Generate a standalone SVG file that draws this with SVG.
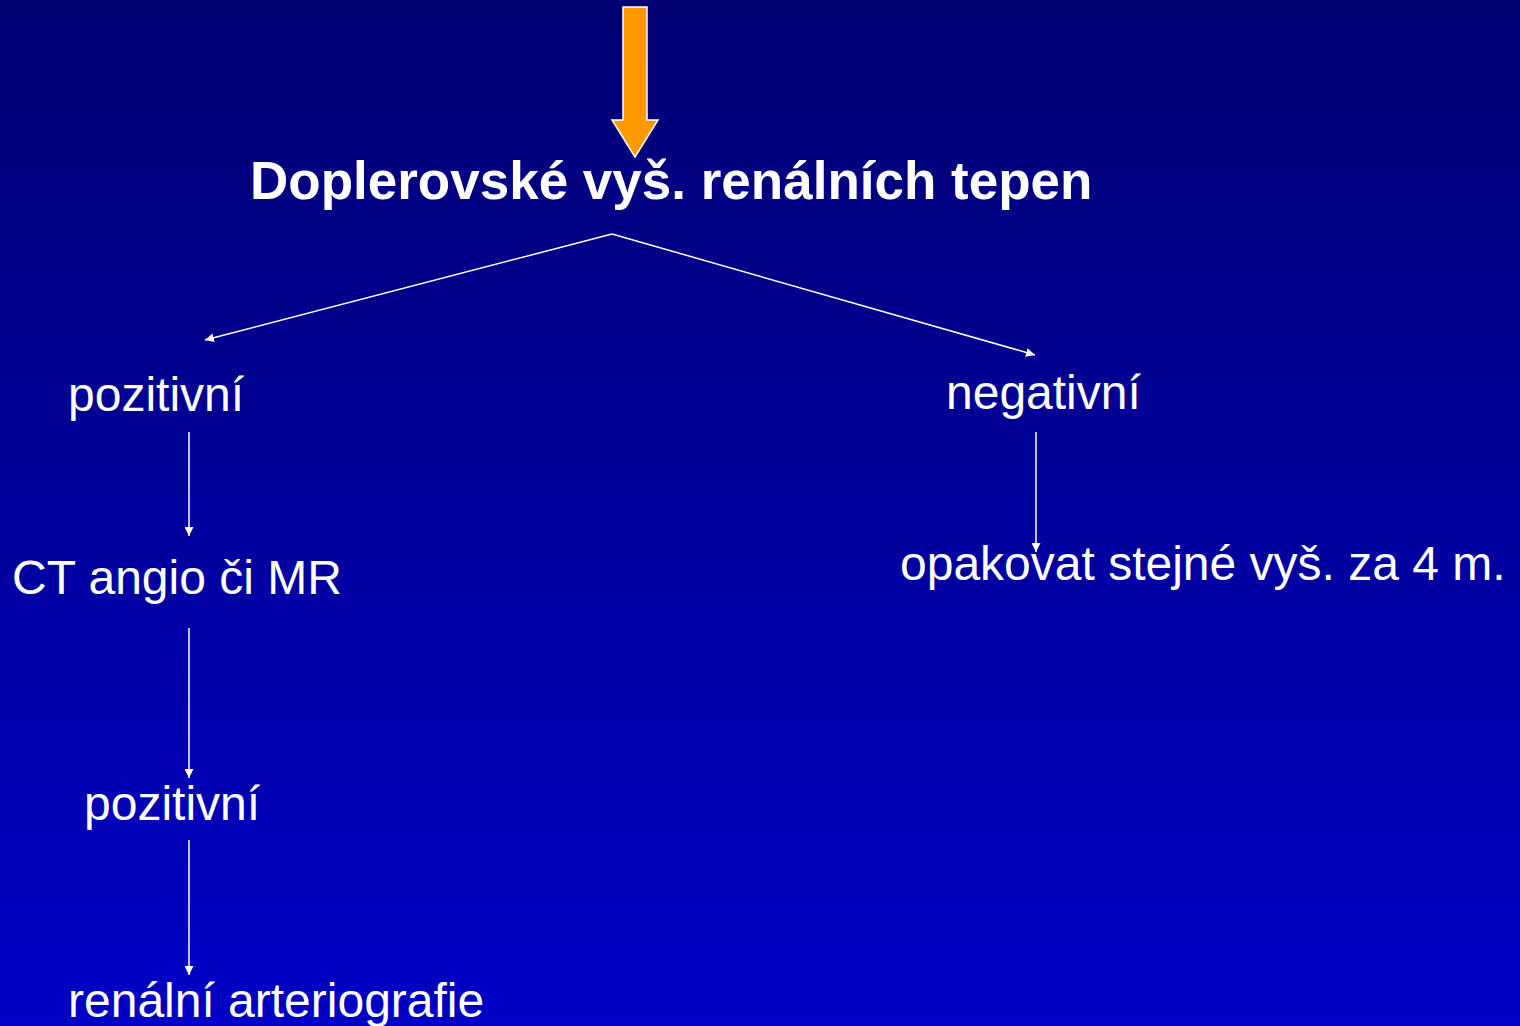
<svg xmlns="http://www.w3.org/2000/svg" width="1520" height="1026" viewBox="0 0 1520 1026">
<defs>
<linearGradient id="bg" x1="0" y1="0" x2="0" y2="1">
<stop offset="0" stop-color="#000072"/>
<stop offset="1" stop-color="#0000C6"/>
</linearGradient>
<marker id="ah" viewBox="0 0 10 10" refX="10" refY="5" markerWidth="9" markerHeight="9" markerUnits="userSpaceOnUse" orient="auto">
<path d="M0,0 L10,5 L0,10 z" fill="#fff"/>
</marker>
<style>
.t{fill:#fff;font-family:"Liberation Sans",Arial,sans-serif;font-size:48px}
.b{font-weight:bold;font-size:53px}
.c{stroke:#fff;stroke-width:1.5;fill:none;marker-end:url(#ah)}
</style>
</defs>
<rect width="1520" height="1026" fill="url(#bg)"/>
<g id="start-arrow">
<path d="M623,7 L647,7 L647,120 L658,120 L635,157 L612,120 L623,120 Z" fill="#FF9900" stroke="#fff" stroke-width="1.5"/>
</g>
<g id="n-doppler"><text class="t b" x="250" y="199">Doplerovské vyš. renálních tepen</text></g>
<g id="n-poz1"><text class="t" x="68" y="411">pozitivní</text></g>
<g id="n-neg"><text class="t" x="946" y="409">negativní</text></g>
<g id="n-ct"><text class="t" x="12" y="594">CT angio či MR</text></g>
<g id="n-opak"><text class="t" x="900" y="580">opakovat stejné vyš. za 4 m.</text></g>
<g id="n-poz2"><text class="t" x="84" y="820">pozitivní</text></g>
<g id="n-reno"><text class="t" x="68" y="1017">renální arteriografie</text></g>
<g id="connectors">
<line class="c" x1="612" y1="234" x2="205" y2="340"/>
<line class="c" x1="612" y1="234" x2="1035" y2="355"/>
<line class="c" x1="189" y1="432" x2="189" y2="536"/>
<line class="c" x1="189" y1="628" x2="189" y2="778"/>
<line class="c" x1="189" y1="840" x2="189" y2="975"/>
<line class="c" x1="1036" y1="432" x2="1036" y2="552"/>
</g>
</svg>
